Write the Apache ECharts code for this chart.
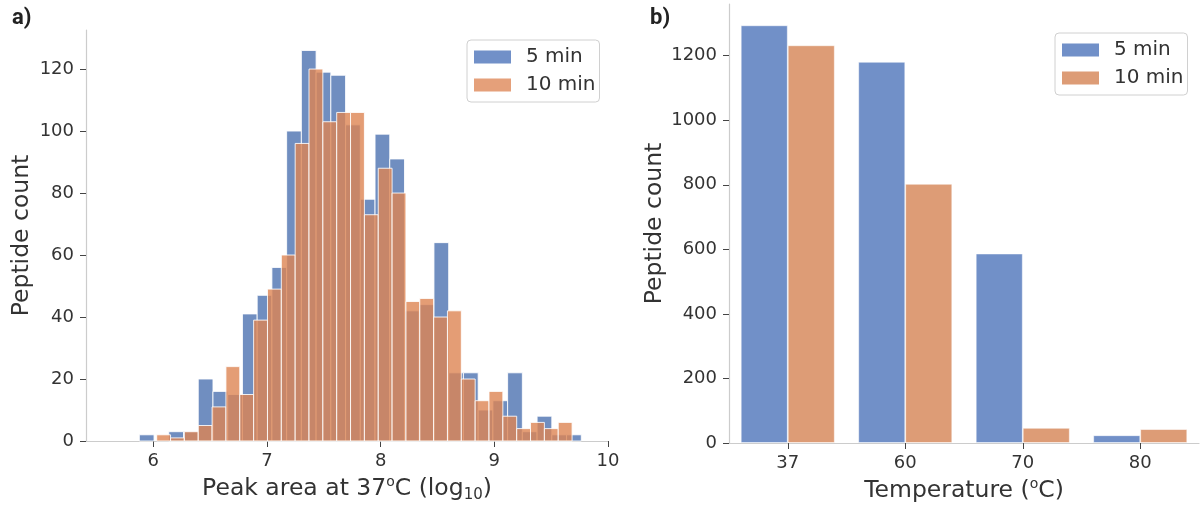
<!DOCTYPE html>
<html>
<head>
<meta charset="utf-8">
<script src="https://cdn.jsdelivr.net/npm/echarts@6/dist/echarts.min.js"></script>
<style>
html,body{margin:0;padding:0;background:#fff;}
#chart{width:1201px;height:508px;}
</style>
</head>
<body>
<div id="chart"></div>
<script>
// ---------- Data: panel a) histogram ----------
const histBlueStart = 5.877;   // left edge of first 5 min bin (log10 peak area)
const histBlueWidth = 0.1296;  // bin width, 5 min
const histBlueCounts = [2,0,3,3,20,16,15,41,47,56,100,126,119,118,102,78,99,91,42,44,64,22,22,10,13,22,3,8,2,2];
const histOrangeStart = 6.030;
const histOrangeWidth = 0.1218;
const histOrangeCounts = [2,1,3,5,11,24,15,39,49,60,96,120,103,106,106,73,88,80,45,46,40,42,20,13,16,8,4,6,4,6];
const histXTicks = [6,7,8,9,10];
const histYTicks = [0,20,40,60,80,100,120];

// ---------- Data: panel b) bar chart ----------
const temperatures = ['37','60','70','80'];
const count5min  = [1294,1181,587,24];
const count10min = [1232,803,47,43];
const barYTicks = [0,200,400,600,800,1000,1200];

const seriesNames = ['5 min','10 min'];
const BLUE = '#7190c8';
const ORANGE = '#dd9c76';

function bins(start, width, counts){
  return counts.map((c,i)=>[start+width*i, start+width*(i+1), c]);
}

function histRender(fill){
  return function(params, api){
    const x0 = api.value(0), x1 = api.value(1), c = api.value(2);
    if (c <= 0) return null;
    const p0 = api.coord([x0, c]);
    const p1 = api.coord([x1, 0]);
    return {
      type:'rect',
      shape:{x:p0[0], y:p0[1], width:p1[0]-p0[0], height:p1[1]-p0[1]},
      style:{fill:fill, stroke:'rgba(255,255,255,0.85)', lineWidth:1}
    };
  };
}

const textColor = '#333';
const axisLineColor = '#cccccc';
const tickColor = '#444';
const FONT = 'DejaVu Sans';
const TICK_FS = 18;
const TITLE_FS = 23.5;
const LEG_FS = 20;

const nameRich = {
  n:{fontSize:TITLE_FS, fontFamily:FONT, color:textColor, lineHeight:28},
  s:{fontSize:14, fontFamily:FONT, color:textColor, lineHeight:15, verticalAlign:'top'},
  b:{fontSize:15, fontFamily:FONT, color:textColor, lineHeight:15, verticalAlign:'bottom'}
};

const plainNum = v => String(v);

const chart = echarts.init(document.getElementById('chart'), null, {renderer:'canvas'});

function legendCfg(left, top, colors){
  return {
    orient:'vertical', left:left, top:top,
    padding:[7,4,7,7], itemGap:8, itemWidth:37, itemHeight:13,
    borderColor:'#d0d0d0', borderWidth:1, borderRadius:4, backgroundColor:'rgba(255,255,255,0.8)',
    selectedMode:false,
    textStyle:{fontSize:LEG_FS, color:textColor, fontFamily:FONT, padding:[0,0,0,10]},
    data:[{name:seriesNames[0], itemStyle:{color:colors[0]}, icon:'rect'},
          {name:seriesNames[1], itemStyle:{color:colors[1]}, icon:'rect'}]
  };
}

const option = {
  backgroundColor:'#ffffff',
  animation:false,
  textStyle:{fontFamily:FONT},
  graphic:[
    {type:'text', left:12, top:7, style:{text:'a)', fontFamily:'Roboto', fontWeight:'bold', fontSize:22, fill:'#222'}},
    {type:'text', left:650, top:7, style:{text:'b)', fontFamily:'Roboto', fontWeight:'bold', fontSize:22, fill:'#222'}}
  ],
  legend:[
    legendCfg(467, 40, [BLUE, '#e5a07a']),
    legendCfg(1055, 33, [BLUE, ORANGE])
  ],
  grid:[
    {left:86, top:30, width:522, height:414.5},
    {left:729, top:4, width:470, height:440.5}
  ],
  xAxis:[
    {
      type:'value', gridIndex:0, min:5.408, max:10,
      axisLine:{show:true, lineStyle:{color:axisLineColor, width:1.2}},
      axisTick:{show:true, length:6, lineStyle:{color:tickColor}, customValues:histXTicks},
      axisLabel:{fontSize:TICK_FS, color:textColor, margin:11, customValues:histXTicks, fontFamily:FONT, formatter:plainNum},
      splitLine:{show:false},
      name:'{n|Peak area at 37}{s|o}{n|C (log}{b|10}{n|)}',
      nameLocation:'middle', nameGap:34,
      nameTextStyle:{rich:nameRich}
    },
    {
      type:'category', gridIndex:1, data:temperatures,
      axisLine:{show:true, lineStyle:{color:axisLineColor, width:1.2}},
      axisTick:{show:true, alignWithLabel:true, length:6, lineStyle:{color:tickColor}},
      axisLabel:{fontSize:TICK_FS, color:textColor, margin:11, fontFamily:FONT},
      splitLine:{show:false},
      name:'{n|Temperature (}{s|o}{n|C)}',
      nameLocation:'middle', nameGap:34,
      nameTextStyle:{rich:nameRich}
    }
  ],
  yAxis:[
    {
      type:'value', gridIndex:0, min:0, max:132.6,
      axisLine:{show:true, lineStyle:{color:axisLineColor, width:1.2}},
      axisTick:{show:true, length:6, lineStyle:{color:tickColor}, customValues:histYTicks},
      axisLabel:{fontSize:TICK_FS, color:textColor, margin:12, customValues:histYTicks, fontFamily:FONT, formatter:plainNum},
      splitLine:{show:false},
      name:'Peptide count', nameLocation:'middle', nameGap:52,
      nameTextStyle:{fontSize:TITLE_FS, color:textColor, fontFamily:FONT}
    },
    {
      type:'value', gridIndex:1, min:0, max:1360,
      axisLine:{show:true, lineStyle:{color:axisLineColor, width:1.2}},
      axisTick:{show:true, length:6, lineStyle:{color:tickColor}, customValues:barYTicks},
      axisLabel:{fontSize:TICK_FS, color:textColor, margin:12, customValues:barYTicks, fontFamily:FONT, formatter:plainNum},
      splitLine:{show:false},
      name:'Peptide count', nameLocation:'middle', nameGap:59,
      nameTextStyle:{fontSize:TITLE_FS, color:textColor, fontFamily:FONT}
    }
  ],
  series:[
    {
      name:seriesNames[0], type:'custom', xAxisIndex:0, yAxisIndex:0,
      renderItem:histRender('rgba(76,114,176,0.8)'),
      encode:{x:[0,1], y:2},
      data:bins(histBlueStart, histBlueWidth, histBlueCounts),
      itemStyle:{color:BLUE}
    },
    {
      name:seriesNames[1], type:'custom', xAxisIndex:0, yAxisIndex:0,
      renderItem:histRender('rgba(221,132,82,0.8)'),
      encode:{x:[0,1], y:2},
      data:bins(histOrangeStart, histOrangeWidth, histOrangeCounts),
      itemStyle:{color:ORANGE}
    },
    {
      name:seriesNames[0], type:'bar', xAxisIndex:1, yAxisIndex:1,
      data:count5min, barGap:'0%', barCategoryGap:'20%',
      itemStyle:{color:BLUE, borderColor:'rgba(255,255,255,0.7)', borderWidth:0.8}
    },
    {
      name:seriesNames[1], type:'bar', xAxisIndex:1, yAxisIndex:1,
      data:count10min, barGap:'0%', barCategoryGap:'20%',
      itemStyle:{color:ORANGE, borderColor:'rgba(255,255,255,0.7)', borderWidth:0.8}
    }
  ]
};
chart.setOption(option);
</script>
</body>
</html>
